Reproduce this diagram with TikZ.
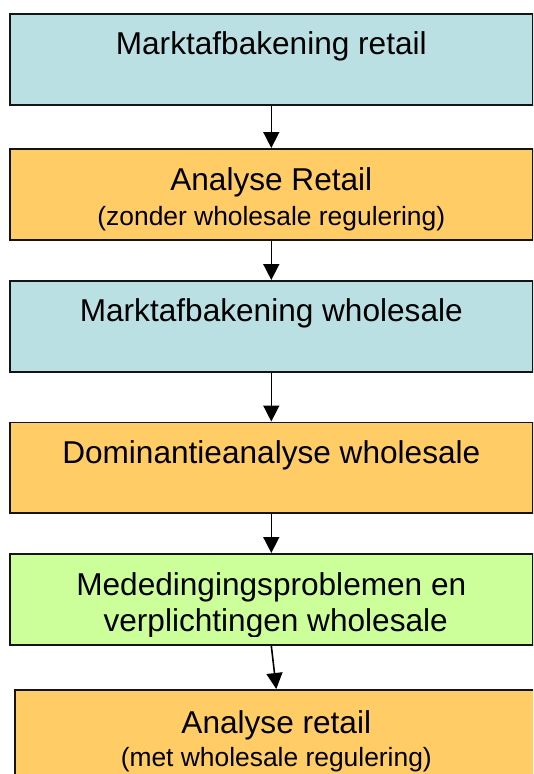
\documentclass[tikz,border=0pt]{standalone}
\usepackage{fontspec}
\setmainfont{Liberation Sans}
\usetikzlibrary{arrows.meta,calc}
\definecolor{paleteal}{HTML}{BBE0E3}
\definecolor{softorange}{HTML}{FFCC66}
\definecolor{limegreen}{HTML}{CCFF99}
\definecolor{edgeink}{HTML}{141414}
\begin{document}
\begin{tikzpicture}[x=1pt,y=-1pt,
  stage/.style={draw=edgeink, line width=1.6pt, rectangle, minimum width=523pt,
                minimum height=91pt, anchor=north west, inner sep=0pt},
  head/.style={anchor=base, inner sep=0pt, font=\fontsize{31.6}{38}\selectfont},
  sub/.style={anchor=base, inner sep=0pt, font=\fontsize{26.4}{32}\selectfont},
  flow/.style={draw=black, line width=1.6pt, -{Triangle[length=16pt,width=16pt]}}]
\clip (0,0) rectangle (533,774);
\fill[white] (0,0) rectangle (533,774);

% process stages
\node[stage, fill=paleteal]   (b1) at (9,13)  {};
\node[stage, fill=softorange] (b2) at (9,148) {};
\node[stage, fill=paleteal]   (b3) at (9,280) {};
\node[stage, fill=softorange, minimum height=90.5pt] (b4) at (9,421.5) {};
\node[stage, fill=limegreen]  (b5) at (9,553) {};
\node[stage, fill=softorange, minimum height=120pt] (b6) at (14,689) {};

% stage labels
\node[head] (t1)  at ($(b1.north)+(0,41.4)$) {Marktafbakening retail};
\node[head] (t2a) at ($(b2.north)+(0,42.5)$) {Analyse Retail};
\node[sub]  (t2b) at ($(b2.north)+(0,77)$)   {(zonder wholesale regulering)};
\node[head] (t3)  at ($(b3.north)+(0,41.4)$) {Marktafbakening wholesale};
\node[head] (t4)  at ($(b4.north)+(0,41.5)$) {Dominantieanalyse wholesale};
\node[head] (t5a) at ($(b5.north)+(0,42.4)$) {Mededingingsproblemen en};
\begin{scope}
  % the text frame cuts off the descenders of the second line
  \clip (b5.north west) rectangle ($(b5.south east)+(0,-9.5)$);
  \node[head] (t5b) at ($(b5.north)+(0,78.8)$) {\ verplichtingen wholesale};
\end{scope}
\node[head] (t6a) at ($(b6.north)+(0,44.9)$) {Analyse retail};
\node[sub]  (t6b) at ($(b6.north)+(0,77)$)   {(met wholesale regulering)};

% flow between stages
\draw[flow] (b1.south) -- (b2.north);
\draw[flow] (b2.south) -- (b3.north);
\draw[flow] (b3.south) -- (b4.north);
\draw[flow] (b4.south) -- (b5.north);
\draw[flow] (b5.south) -- (b6.north);
\end{tikzpicture}
\end{document}
